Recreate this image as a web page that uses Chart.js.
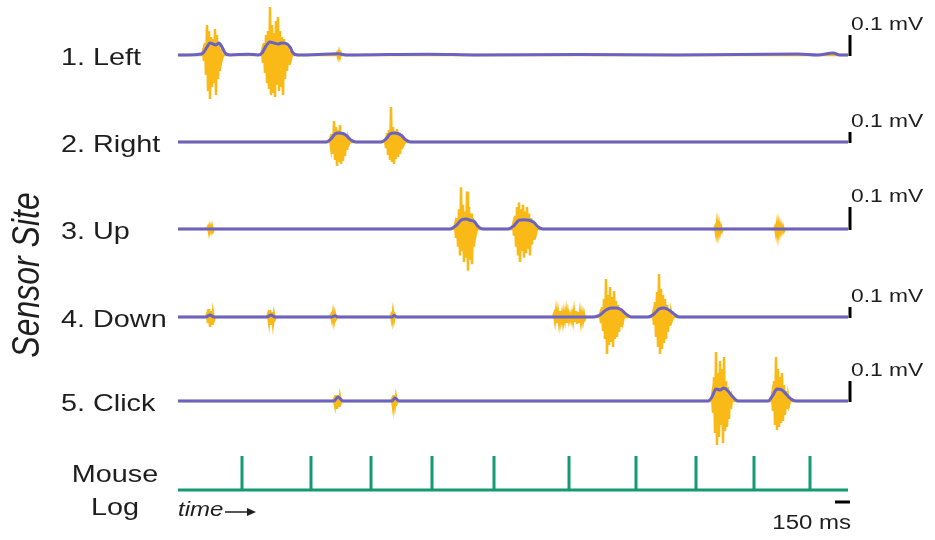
<!DOCTYPE html>
<html>
<head>
<meta charset="utf-8">
<script src="https://cdn.jsdelivr.net/npm/chart.js@4.4.0/dist/chart.umd.min.js"></script>
<style>
  body { margin: 0; background: #fff; }
  #wrap { width: 935px; height: 540px; }
</style>
</head>
<body>
<div id="wrap"><canvas id="emg" width="935" height="540"></canvas></div>
<script>
// channel names and traces (time in ms, amplitude in mV)
const channels = ['1. Left', '2. Right', '3. Up', '4. Down', '5. Click'];
const sampleStepMs = 10;
const traceEndMs = 6700;
const scaleBarMv = 0.1;
const scaleBarMs = 150;

// raw EMG bursts: onset (ms) and samples every 10 ms
const burstOnsets = [
  [250, 840, 1590],
  [1520, 2070],
  [300, 2770, 3350, 5370, 5970],
  [290, 900, 1530, 2130, 3760, 4220, 4750],
  [1560, 2140, 5340, 5940]
];
const burstSamples = [
  [
    [0.02,-0.03,0.06,-0.10,0.15,-0.18,0.12,-0.22,0.09,-0.16,0.08,-0.14,0.13,-0.20,0.10,-0.12,0.05,-0.08,0.03,-0.02],
    [0.02,-0.04,0.06,-0.09,0.10,-0.14,0.12,-0.17,0.24,-0.20,0.15,-0.19,0.11,-0.21,0.17,-0.15,0.19,-0.18,0.12,-0.16,0.09,-0.20,0.08,-0.12,0.06,-0.08,0.04,-0.05,0.02,-0.02],
    [0.01,-0.01,0.015,-0.01,0.01]
  ],
  [
    [0.03,-0.05,0.08,-0.12,0.21,-0.18,0.15,-0.24,0.12,-0.20,0.17,-0.22,0.10,-0.19,0.08,-0.14,0.05,-0.08,0.03,-0.02],
    [0.02,-0.06,0.09,-0.13,0.12,-0.18,0.35,-0.20,0.15,-0.22,0.11,-0.17,0.13,-0.15,0.07,-0.12,0.05,-0.07,0.02,-0.02]
  ],
  [
    [0.01,-0.015,0.01,-0.01,0.012,-0.01],
    [0.02,-0.04,0.05,-0.08,0.09,-0.12,0.19,-0.10,0.11,-0.15,0.08,-0.13,0.17,-0.19,0.10,-0.14,0.07,-0.16,0.05,-0.08,0.03,-0.02],
    [0.02,-0.03,0.06,-0.08,0.10,-0.12,0.12,-0.15,0.09,-0.10,0.11,-0.13,0.08,-0.11,0.10,-0.09,0.07,-0.12,0.05,-0.07,0.04,-0.05,0.02,-0.02],
    [0.01,-0.02,0.025,-0.02,0.02,-0.015,0.01,-0.01],
    [0.01,-0.02,0.02,-0.025,0.02,-0.015,0.015,-0.01,0.01,-0.01]
  ],
  [
    [0.03,-0.06,0.08,-0.10,0.06,-0.08,0.04,-0.03],
    [0.03,-0.05,0.07,-0.08,0.05,-0.06,0.03,-0.02],
    [0.02,-0.03,0.04,-0.04,0.03,-0.02],
    [0.02,-0.04,0.05,-0.03,0.02],
    [0.03,-0.04,0.05,-0.06,0.04,-0.05,0.06,-0.04,0.03,-0.05,0.04,-0.03,0.05,-0.06,0.04,-0.03,0.02,-0.03,0.03,-0.04,0.05,-0.05,0.06,-0.07,0.05,-0.06,0.04,-0.05,0.03,-0.04,0.03,-0.02],
    [0.03,-0.06,0.10,-0.14,0.18,-0.22,0.38,-0.37,0.22,-0.28,0.30,-0.25,0.20,-0.30,0.26,-0.22,0.16,-0.20,0.12,-0.15,0.08,-0.10,0.05,-0.04,0.02],
    [0.04,-0.08,0.15,-0.20,0.25,-0.30,0.43,-0.37,0.28,-0.32,0.22,-0.26,0.18,-0.22,0.12,-0.15,0.08,-0.09,0.04,-0.03]
  ],
  [
    [0.01,-0.02,0.03,-0.04,0.03,-0.03,0.02,-0.01],
    [0.01,-0.03,0.03,-0.02,0.02,-0.01],
    [0.03,-0.06,0.12,-0.16,0.245,-0.22,0.14,-0.18,0.20,-0.12,0.16,-0.21,0.22,-0.15,0.10,-0.13,0.07,-0.09,0.04,-0.04,0.02],
    [0.03,-0.05,0.10,-0.12,0.22,-0.145,0.16,-0.13,0.12,-0.11,0.14,-0.10,0.08,-0.07,0.05,-0.04,0.02,-0.02]
  ]
];

// smoothed envelopes: [ms, mV]
const envelopes = [
  [[0,0],[200,0.003],[250,0.01],[290,0.04],[320,0.06],[350,0.055],[380,0.05],[410,0.06],[440,0.04],[470,0.01],[520,0],[700,0.004],[800,0],[840,0.01],[880,0.045],[920,0.065],[960,0.06],[1000,0.055],[1040,0.06],[1080,0.058],[1120,0.04],[1150,0.01],[1200,0],[1600,0.006],[1700,0],[2500,0.004],[3000,0],[4000,0.003],[5000,0],[6200,0.005],[6400,0],[6550,0.01],[6620,0],[6700,0]],
  [[0,0],[1480,0],[1530,0.03],[1570,0.08],[1610,0.09],[1650,0.085],[1690,0.06],[1730,0.02],[1780,0],[2030,0],[2080,0.03],[2120,0.08],[2160,0.09],[2200,0.085],[2240,0.06],[2280,0.02],[2330,0],[6700,0]],
  [[0,0],[2720,0],[2780,0.015],[2830,0.04],[2880,0.045],[2920,0.04],[2960,0.035],[3000,0.012],[3050,0],[3300,0],[3360,0.015],[3410,0.04],[3460,0.042],[3510,0.04],[3560,0.03],[3600,0.01],[3650,0],[6700,0]],
  [[0,0],[280,0],[320,0.02],[360,0],[890,0],[930,0.02],[970,0],[1540,0],[1570,0.012],[1600,0],[2140,0],[2160,0.015],[2190,0],[4150,0],[4220,0.02],[4280,0.07],[4330,0.09],[4380,0.09],[4430,0.075],[4480,0.03],[4530,0],[4700,0],[4760,0.03],[4810,0.08],[4860,0.09],[4910,0.07],[4960,0.03],[5010,0],[6700,0]],
  [[0,0],[1560,0],[1600,0.02],[1650,0],[2140,0],[2170,0.015],[2210,0],[5300,0],[5340,0.02],[5380,0.06],[5420,0.055],[5460,0.065],[5500,0.05],[5550,0.02],[5600,0],[5900,0],[5950,0.03],[5990,0.06],[6040,0.055],[6080,0.035],[6130,0.01],[6180,0],[6700,0]]
];

// mouse log events (ms)
const mouseEventsMs = [640, 1330, 1930, 2540, 3160, 3910, 4580, 5180, 5760, 6320];

// display layout
const rowBase = [55, 142, 229, 317, 401];
const rowGain = [200, 100, 220, 100, 200];   // px per mV on each row
const logBase = 490;
const logHeight = 34;

const yellow = '#F9BA17';
const purple = '#6B62C6';
const green = '#149A72';
const ink = '#1e1e1e';
const fontFamily = '"Liberation Sans", Arial, sans-serif';
const textStretch = 1.2;

const datasets = [];
channels.forEach((name, i) => {
  const toY = v => rowBase[i] - v * rowGain[i];
  const raw = [{ x: 0, y: toY(0) }];
  burstOnsets[i].forEach((t0, b) => {
    raw.push({ x: t0 - sampleStepMs, y: toY(0) });
    burstSamples[i][b].forEach((v, k) => raw.push({ x: t0 + k * sampleStepMs, y: toY(v) }));
    raw.push({ x: t0 + burstSamples[i][b].length * sampleStepMs, y: toY(0) });
  });
  raw.push({ x: traceEndMs, y: toY(0) });
  datasets.push({
    label: name + ' raw', data: raw, borderColor: yellow, borderWidth: 2.5,
    tension: 0, order: 3
  });
  datasets.push({
    label: name + ' envelope', data: envelopes[i].map(p => ({ x: p[0], y: toY(p[1]) })),
    borderColor: purple, borderWidth: 3, cubicInterpolationMode: 'monotone', order: 2
  });
  datasets.push({
    label: name + ' scale', data: [{ x: traceEndMs + 20, y: toY(0) + 1 }, { x: traceEndMs + 20, y: toY(scaleBarMv) }],
    borderColor: '#000', borderWidth: 3, order: 1
  });
});

const logPts = [{ x: 0, y: logBase }];
mouseEventsMs.forEach(t => {
  logPts.push({ x: t, y: logBase }, { x: t, y: logBase - logHeight }, { x: t, y: logBase });
});
logPts.push({ x: traceEndMs, y: logBase });
datasets.push({ label: 'Mouse Log', data: logPts, borderColor: green, borderWidth: 3, order: 1 });
datasets.push({
  label: '150 ms', data: [{ x: traceEndMs + 20 - scaleBarMs, y: 502 }, { x: traceEndMs + 20, y: 502 }],
  borderColor: '#000', borderWidth: 3, order: 1
});

function wideText(ctx, text, x, y, align) {
  ctx.save();
  ctx.translate(x, y);
  ctx.scale(textStretch, 1);
  ctx.textAlign = align;
  ctx.fillText(text, 0, 0);
  ctx.restore();
}

const labelPlugin = {
  id: 'labels',
  afterDraw(chart) {
    const ctx = chart.ctx;
    const xs = chart.scales.x, ys = chart.scales.y;
    ctx.save();
    ctx.fillStyle = ink;
    ctx.textBaseline = 'middle';
    ctx.font = '24px ' + fontFamily;
    channels.forEach((name, i) => {
      wideText(ctx, name, 61, ys.getPixelForValue(rowBase[i]) + 3, 'left');
    });
    wideText(ctx, 'Mouse', 115, 475, 'center');
    wideText(ctx, 'Log', 115, 508, 'center');

    ctx.font = '19px ' + fontFamily;
    const barX = xs.getPixelForValue(traceEndMs + 20);
    channels.forEach((name, i) => {
      const top = ys.getPixelForValue(rowBase[i] - scaleBarMv * rowGain[i]);
      wideText(ctx, '0.1 mV', barX + 1, top - 10, 'left');
    });
    ctx.font = '20px ' + fontFamily;
    wideText(ctx, '150 ms', barX + 1, 523, 'right');

    // time arrow
    ctx.font = 'italic 20px ' + fontFamily;
    const x0 = xs.getPixelForValue(0);
    wideText(ctx, 'time', x0, 510, 'left');
    ctx.strokeStyle = ink;
    ctx.lineWidth = 1.5;
    ctx.beginPath();
    ctx.moveTo(x0 + 47, 512);
    ctx.lineTo(x0 + 70, 512);
    ctx.stroke();
    ctx.beginPath();
    ctx.moveTo(x0 + 78, 512);
    ctx.lineTo(x0 + 69, 508);
    ctx.lineTo(x0 + 69, 516);
    ctx.closePath();
    ctx.fill();

    // rotated axis title
    ctx.translate(28, 275);
    ctx.scale(textStretch, 1);
    ctx.rotate(-Math.PI / 2);
    ctx.textAlign = 'center';
    ctx.font = 'italic 32px ' + fontFamily;
    ctx.fillText('Sensor Site', 0, 0);
    ctx.restore();
  }
};

new Chart(document.getElementById('emg'), {
  type: 'line',
  data: { datasets: datasets },
  options: {
    responsive: false,
    animation: false,
    layout: { padding: 0 },
    elements: { point: { radius: 0, hoverRadius: 0 } },
    scales: {
      x: { type: 'linear', min: -1780, max: 7570, display: false },
      y: { type: 'linear', min: 0, max: 540, reverse: true, display: false }
    },
    plugins: { legend: { display: false }, tooltip: { enabled: false } },
    events: []
  },
  plugins: [labelPlugin]
});
</script>
</body>
</html>
